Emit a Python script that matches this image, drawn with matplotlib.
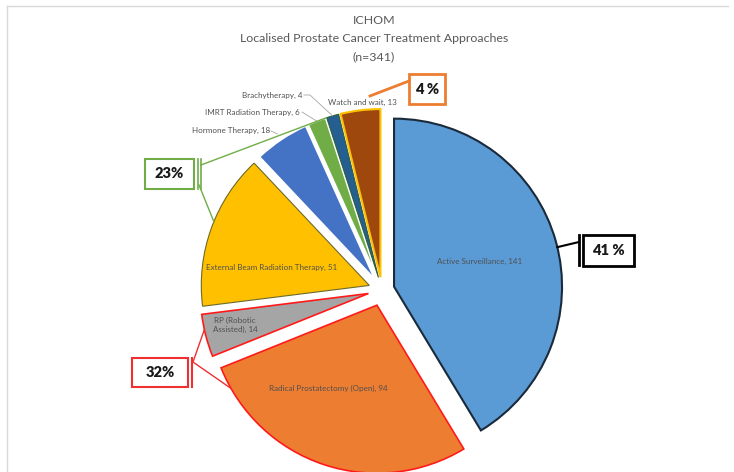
import numpy as np
import matplotlib.pyplot as plt
from matplotlib.patches import Rectangle

plt.rcParams['font.family'] = ['Lato', 'DejaVu Sans']

# data
treatments = ['Active Surveillance', 'Radical Prostatectomy (Open)', 'RP (Robotic\nAssisted)',
              'External Beam Radiation Therapy', 'Hormone Therapy', 'IMRT Radiation Therapy',
              'Brachytherapy', 'Watch and wait']
counts = [141, 94, 14, 51, 18, 6, 4, 13]
colors = ['#5B9BD5', '#ED7D31', '#A5A5A5', '#FFC000', '#4472C4', '#70AD47', '#255E91', '#9E480E']
edges = ['#1A2A3A', '#FF1A1A', '#FF1A1A', '#6E6A2A', 'white', 'white', '#2E5E3A', '#FFC000']
edge_w = [1.5, 1.2, 1.2, 0.8, 1.2, 1.2, 0.8, 1.5]

group_labels = ['41 %', '32%', '23%', '4 %']
group_colors = ['black', '#F03030', '#70AD47', '#ED7D31']

W, H = 734, 472
fig = plt.figure(figsize=(W / 100, H / 100), dpi=100)
ax = fig.add_axes([0, 0, 1, 1])


def sy(y):
    # screen pixel y (from top) -> data y
    return H - y


explode = [12.5, 16, 14, 13.5, 13, 13, 13, 13]
wedges, _ = ax.pie(counts, colors=colors, startangle=90, counterclock=False,
                   explode=explode, radius=168, center=(382, sy(290)))
for w, ec, lw in zip(wedges, edges, edge_w):
    w.set_edgecolor(ec)
    w.set_linewidth(lw)


def arc_pt(w, ang, rf=1.0):
    cx, cy = w.center
    a = np.radians(ang)
    return cx + w.r * rf * np.cos(a), cy + w.r * rf * np.sin(a)


def mid(w):
    return 0.5 * (w.theta1 + w.theta2)


# labels inside the big slices
inside = {0: (480, 261), 1: (328, 388), 2: (235, 325), 3: (272, 267)}
for i, (x, y) in inside.items():
    ax.text(x, sy(y), f'{treatments[i]}, {counts[i]}', ha='center', va='center',
            fontsize=5.8, color='#505050', linespacing=1.3)

# outside labels with leaders
lead = '#A6A6A6'
lab = dict(va='center', fontsize=5.8, color='#505050')
ax.text(270, sy(130), f'{treatments[4]}, {counts[4]}', ha='right', **lab)
px, py = arc_pt(wedges[4], mid(wedges[4]), 1.04)
ax.plot([271, px], [sy(131), py], color=lead, lw=0.6)

ax.text(300, sy(112), f'{treatments[5]}, {counts[5]}', ha='right', **lab)
px, py = arc_pt(wedges[5], mid(wedges[5]))
ax.plot([302, px], [sy(112), py], color=lead, lw=0.6)

ax.text(303, sy(95), f'{treatments[6]}, {counts[6]}', ha='right', **lab)
px, py = arc_pt(wedges[6], mid(wedges[6]))
ax.plot([304, 310, px], [sy(95), sy(95), py], color=lead, lw=0.6)

ax.text(362, sy(102), f'{treatments[7]}, {counts[7]}', ha='center', **lab)


def pct_box(x0, y0, x1, y1, text, color, lw=1.5):
    ax.add_patch(Rectangle((x0, sy(y1)), x1 - x0, y1 - y0, fill=False, edgecolor=color, lw=lw))
    ax.text((x0 + x1) / 2, sy((y0 + y1) / 2), text, ha='center', va='center',
            fontsize=10.5, fontweight='heavy', color='#1A1A1A')


# 41 %
pct_box(583, 235, 634, 266, group_labels[0], group_colors[0], 2)
ax.plot([579, 579], [sy(235), sy(265)], color=group_colors[0], lw=2)
px, py = arc_pt(wedges[0], 13.6)
ax.plot([579, px], [sy(242), py], color=group_colors[0], lw=1.5)

# 32%
pct_box(132, 358, 188, 387, group_labels[1], group_colors[1])
ax.plot([192, 192], [sy(358), sy(387)], color=group_colors[1], lw=1.5)
px, py = arc_pt(wedges[2], 192.4)
ax.plot([193, px], [sy(362), py], color=group_colors[1], lw=1)
px, py = arc_pt(wedges[1], 209.7)
ax.plot([193, px], [sy(362), py], color=group_colors[1], lw=1)

# 23%
pct_box(145, 159, 194, 189, group_labels[2], group_colors[2])
ax.plot([198, 198], [sy(159), sy(189)], color=group_colors[2], lw=1.2)
ax.plot([201, 201], [sy(159), sy(189)], color=group_colors[2], lw=1.2)
px, py = arc_pt(wedges[5], wedges[5].theta1)
ax.plot([201, px], [sy(165), py], color=group_colors[2], lw=1)
px, py = arc_pt(wedges[3], 157.7)
ax.plot([199, px], [sy(185), py], color=group_colors[2], lw=1)

# 4 %
pct_box(409, 74, 445, 104, group_labels[3], group_colors[3], 2)
px, py = arc_pt(wedges[7], 93.3, 1.08)
ax.plot([409, px], [sy(81), py], color=group_colors[3], lw=2)

# title
for line, y in zip(['ICHOM', 'Localised Prostate Cancer Treatment Approaches', '(n=341)'], [20, 39, 57]):
    ax.text(374, sy(y), line, ha='center', va='center', fontsize=8.9, color='#595959')

# frame lines
ax.plot([7, 728], [sy(6), sy(6)], color='#D9D9D9', lw=1)
ax.plot([7, 7], [sy(6), sy(472)], color='#D9D9D9', lw=1)

ax.set_xlim(0, W)
ax.set_ylim(0, H)
ax.set_aspect('auto')
ax.axis('off')

fig.savefig('out.png', dpi=100)
